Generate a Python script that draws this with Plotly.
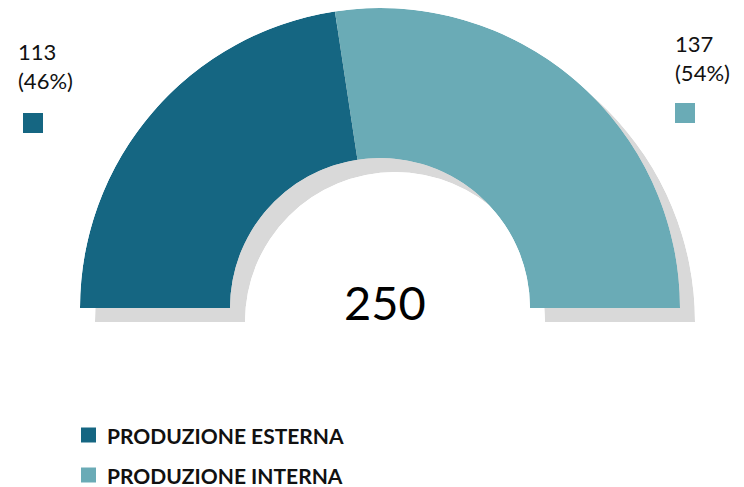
import plotly.graph_objects as go

categories = ["PRODUZIONE ESTERNA", "PRODUZIONE INTERNA"]
values = [113, 137]
pct_labels = ["46%", "54%"]
colors = ["#156682", "#6AABB6"]
shadow_color = "#D9D9D9"

total = sum(values)
W, H = 744, 487

fig = go.Figure()
# shadow half-ring
fig.add_trace(go.Barpolar(r=[1], theta=[90], width=[180],
                          marker=dict(color=shadow_color, line=dict(width=0)),
                          subplot="polar", showlegend=False, hoverinfo="skip"))
start = 180.0
for name, v, c in zip(categories, values, colors):
    span = v / total * 180.0
    fig.add_trace(go.Barpolar(r=[1], theta=[start - span / 2], width=[span], name=name,
                              marker=dict(color=c, line=dict(width=0)),
                              subplot="polar2", showlegend=False))
    start -= span


def polar_cfg(x0, x1, ybot, ytop):
    return dict(domain=dict(x=[x0 / W, x1 / W], y=[1 - ybot / H, 1 - ytop / H]),
                sector=[0, 180], hole=0.5, bgcolor="rgba(0,0,0,0)",
                radialaxis=dict(visible=False, range=[0, 1]),
                angularaxis=dict(visible=False))


annotations = []
shapes = []
# value labels
label_pos = [(16, 36, 23, 113), (673, 28, 675, 103)]
for (tx, ty, sx, sy), v, p, c in zip(label_pos, values, pct_labels, colors):
    annotations.append(dict(x=tx / W, y=1 - ty / H, xref="paper", yref="paper",
                            xanchor="left", yanchor="top", align="left", showarrow=False,
                            text=f"{v}<br>({p})",
                            font=dict(family="Lato", size=22, color="#111111")))
    shapes.append(dict(type="rect", xref="paper", yref="paper",
                       x0=sx / W, x1=(sx + 20) / W, y0=1 - sy / H, y1=1 - (sy + 20) / H,
                       fillcolor=c, line=dict(width=0)))

# total in center
annotations.append(dict(x=385 / W, y=1 - 302 / H, xref="paper", yref="paper",
                        xanchor="center", yanchor="middle", showarrow=False,
                        text=str(total), font=dict(family="Lato", size=47, color="#000000")))

# legend
for i, (name, c) in enumerate(zip(categories, colors)):
    yc = 435 + i * 40
    shapes.append(dict(type="rect", xref="paper", yref="paper",
                       x0=81 / W, x1=96 / W, y0=1 - (yc - 7.5) / H, y1=1 - (yc + 7.5) / H,
                       fillcolor=c, line=dict(width=0)))
    annotations.append(dict(x=106 / W, y=1 - yc / H, xref="paper", yref="paper",
                            xanchor="left", yanchor="middle", showarrow=False,
                            text=f"<b>{name}</b>", borderpad=0,
                            font=dict(family="Lato", size=21, color="#111111")))

fig.update_layout(
    width=W, height=H,
    margin=dict(l=0, r=0, t=0, b=0),
    paper_bgcolor="white", plot_bgcolor="white",
    polar=polar_cfg(95, 695, 322, 22),
    polar2=polar_cfg(80, 680, 308, 8),
    annotations=annotations, shapes=shapes,
    showlegend=False,
)

fig.write_html("out.html", config={"displayModeBar": False},
               post_script="document.body.style.margin='0';")
